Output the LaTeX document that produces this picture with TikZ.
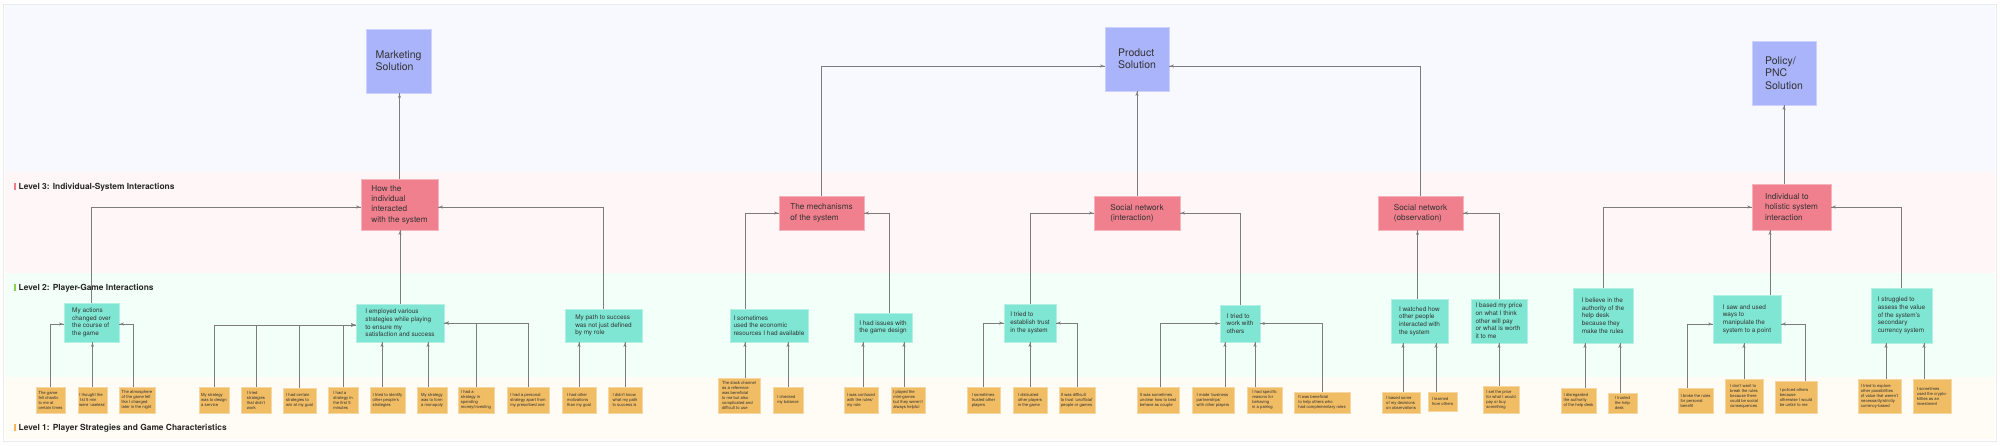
\documentclass[tikz,border=0pt]{standalone}
\usepackage{fontspec}
\setmainfont{TeX Gyre Heros}
\usetikzlibrary{arrows}
\usetikzlibrary{decorations.markings}
\definecolor{bandtop}{HTML}{F8F8FF}
\definecolor{bandthree}{HTML}{FFF6F7}
\definecolor{bandtwo}{HTML}{F3FFF9}
\definecolor{bandone}{HTML}{FFFCF5}
\definecolor{framegray}{HTML}{ECECEC}
\definecolor{solblue}{HTML}{AAB4FA}
\definecolor{themered}{HTML}{F0808E}
\definecolor{mint}{HTML}{7EE6D2}
\definecolor{notegold}{HTML}{F0BC64}
\definecolor{linegray}{HTML}{7C7C7C}
\definecolor{inkgray}{HTML}{333333}
\definecolor{barthree}{HTML}{F07C8A}
\definecolor{bartwo}{HTML}{8BD34B}
\definecolor{barone}{HTML}{F4B45A}
\tikzset{feed/.style = {color=linegray, line width=0.8pt,
                        decoration={markings,
                                    mark=at position 1 with {\arrow[scale=0.85]{latex'}}},
                        postaction={decorate}}}
\tikzset{solution/.style = {fill=solblue, draw=solblue!60!white, line width=0.6pt, align=left,
                            text=inkgray, inner sep=2pt,
                            font=\fontsize{10.5}{12.5}\selectfont}}
\tikzset{theme/.style = {fill=themered, draw=themered!60!white, line width=0.6pt, align=left,
                         text=inkgray, inner sep=2pt,
                         font=\fontsize{8.2}{10.3}\selectfont}}
\tikzset{interact/.style = {fill=mint, draw=mint!60!white, line width=0.6pt, align=left,
                            text=inkgray, inner sep=2pt,
                            font=\fontsize{6.4}{7.7}\selectfont}}
\tikzset{note/.style = {fill=notegold, draw=notegold!60!white, line width=0.5pt, align=left,
                        text=inkgray, inner sep=1pt,
                        font=\fontsize{4.2}{5}\selectfont}}
\tikzset{lvl/.style = {anchor=west, inner sep=0pt, text=black!85,
                       font=\fontsize{8.4}{10}\selectfont\bfseries}}

\begin{document}
\begin{tikzpicture}[x=1pt, y=-1pt]
      \useasboundingbox (0,0) rectangle (2000,445);
      \fill [white] (0,0) rectangle (2000,445);

      % bands
      \fill [bandtop] (5,5) rectangle (1995,172);
      \fill [bandthree] (5,172) rectangle (1995,273);
      \fill [bandtwo] (5,273) rectangle (1995,377);
      \fill [bandone] (5,377) rectangle (1995,439);
      \draw [framegray, line width=0.8pt] (3,4) rectangle (1996,441);

      \node [lvl] (lvlthree) at (14,187) {\textcolor{barthree}{\rule[-0.05em]{1.5pt}{0.8em}}\hspace{3pt}Level 3: Individual-System Interactions};
      \node [lvl] (lvltwo) at (14,288) {\textcolor{bartwo}{\rule[-0.05em]{1.5pt}{0.8em}}\hspace{3pt}Level 2: Player-Game Interactions};
      \node [lvl] (lvlone) at (14,428) {\textcolor{barone}{\rule[-0.05em]{1.5pt}{0.8em}}\hspace{3pt}Level 1: Player Strategies and Game Characteristics};

      % solutions
      \node [solution, minimum width=65pt, minimum height=64pt] (market) at (398.5,61) {Marketing\\Solution};
      \node [solution, minimum width=64pt, minimum height=64pt] (product) at (1137,59) {Product\\Solution};
      \node [solution, minimum width=64pt, minimum height=64pt] (policy) at (1784,73) {Policy/\\PNC\\Solution};

      % level 3
      \node [theme, minimum width=77pt, minimum height=51pt] (howsys) at (399.5,204.5) {How the\\individual\\interacted\\with the system};
      \node [theme, minimum width=85pt, minimum height=34pt] (mech) at (821.5,213) {The mechanisms\\of the system};
      \node [theme, minimum width=86pt, minimum height=34pt] (socint) at (1137,213) {Social network\\(interaction)};
      \node [theme, minimum width=85pt, minimum height=34pt] (socobs) at (1420.5,213) {Social network\\(observation)};
      \node [theme, minimum width=79pt, minimum height=46pt] (holistic) at (1791.5,207) {Individual to\\holistic system\\interaction};

      % level 2
      \node [interact, minimum width=55pt, minimum height=39pt] (myact) at (91.5,322.5) {My actions\\changed over\\the course of\\the game};
      \node [interact, minimum width=88pt, minimum height=38pt] (employ) at (400,323) {I employed various\\strategies while playing\\to ensure my\\satisfaction and success};
      \node [interact, minimum width=77pt, minimum height=33pt] (mypath) at (603.5,325.5) {My path to success\\was not just defined\\by my role};
      \node [interact, minimum width=78pt, minimum height=33pt] (ecores) at (769,325.5) {I sometimes\\used the economic\\resources I had available};
      \node [interact, minimum width=58pt, minimum height=29pt] (issues) at (883,327.5) {I had issues with\\the game design};
      \node [interact, minimum width=52pt, minimum height=38pt] (trust) at (1030,323) {I tried to\\establish trust\\in the system};
      \node [interact, minimum width=40pt, minimum height=37pt] (twork) at (1240,323.5) {I tried to\\work with\\others};
      \node [interact, minimum width=57pt, minimum height=44pt] (watched) at (1419.5,321) {I watched how\\other people\\interacted with\\the system};
      \node [interact, minimum width=56pt, minimum height=44pt] (price) at (1499,321) {I based my price\\on what I think\\other will pay\\or what is worth\\it to me};
      \node [interact, minimum width=60pt, minimum height=55pt] (believe) at (1603,315.5) {I believe in the\\authority of the\\help desk\\because they\\make the rules};
      \node [interact, minimum width=68pt, minimum height=48pt] (sawused) at (1747,319) {I saw and used\\ways to\\manipulate the\\system to a point};
      \node [interact, minimum width=61pt, minimum height=55pt] (struggled) at (1901.5,315.5) {I struggled to\\assess the value\\of the system's\\secondary\\currency system};

      % level 1
      \node [note, minimum width=29pt, minimum height=26pt] (n1) at (50.5,400) {The game\\felt chaotic\\to me at\\certain times};
      \node [note, minimum width=29pt, minimum height=26pt] (n2) at (92.5,400) {I thought the\\1st 5 min\\were `useless'};
      \node [note, minimum width=36pt, minimum height=26pt] (n3) at (137,400) {The atmosphere\\of the game felt\\like I changed\\later in the night};
      \node [note, minimum width=30pt, minimum height=26pt] (n4) at (214,400) {My strategy\\was to design\\a service};
      \node [note, minimum width=30pt, minimum height=26pt] (n5) at (256,400) {I tried\\strategies\\that didn't\\work};
      \node [note, minimum width=33pt, minimum height=25pt] (n6) at (299.5,400.5) {I had certain\\strategies to\\win at my goal};
      \node [note, minimum width=30pt, minimum height=26pt] (n7) at (343,400) {I had a\\strategy in\\the first 5\\minutes};
      \node [note, minimum width=35pt, minimum height=26pt] (n8) at (387.5,400) {I tried to identify\\other people's\\strategies};
      \node [note, minimum width=30pt, minimum height=26pt] (n9) at (432,400) {My strategy\\was to form\\a monopoly};
      \node [note, minimum width=36pt, minimum height=26pt] (n10) at (476,400) {I had a\\strategy in\\spending\\money/investing};
      \node [note, minimum width=42pt, minimum height=26pt] (n11) at (528,400) {I had a personal\\strategy apart from\\my prescribed one};
      \node [note, minimum width=34pt, minimum height=26pt] (n12) at (579,400) {I had other\\motivations\\than my goal};
      \node [note, minimum width=34pt, minimum height=26pt] (n13) at (625,400) {I didn't know\\what my path\\to success is};
      \node [note, minimum width=42pt, minimum height=35pt] (n14) at (739,395.5) {The slack channel\\as a reference\\was beneficial\\to me but also\\complicated and\\difficult to use};
      \node [note, minimum width=30pt, minimum height=26pt] (n15) at (788,400) {I checked\\my balance};
      \node [note, minimum width=34pt, minimum height=26pt] (n16) at (861,400) {I was confused\\with the rules/\\my role};
      \node [note, minimum width=34pt, minimum height=26pt] (n17) at (908,400) {I played the\\mini-games\\but they weren't\\always helpful};
      \node [note, minimum width=33pt, minimum height=26pt] (n18) at (983.5,400) {I sometimes\\trusted other\\players};
      \node [note, minimum width=34pt, minimum height=26pt] (n19) at (1030,400) {I distrusted\\other players\\in the game};
      \node [note, minimum width=36pt, minimum height=26pt] (n20) at (1077,400) {It was difficult\\to trust `unofficial'\\people or games};
      \node [note, minimum width=42pt, minimum height=26pt] (n21) at (1158,400) {It was sometimes\\unclear how to best\\behave as couple};
      \node [note, minimum width=42pt, minimum height=26pt] (n22) at (1213,400) {I made `business\\partnerships'\\with other players};
      \node [note, minimum width=35pt, minimum height=26pt] (n23) at (1264.5,400) {I had specific\\reasons for\\behaving\\in a pairing};
      \node [note, minimum width=56pt, minimum height=21pt] (n24) at (1322,402.5) {It was beneficial\\to help others who\\had complementary roles};
      \node [note, minimum width=38pt, minimum height=21pt] (n25) at (1401,402.5) {I based some\\of my decisions\\on observations};
      \node [note, minimum width=29pt, minimum height=19pt] (n26) at (1442.5,401.5) {I learned\\from others};
      \node [note, minimum width=36pt, minimum height=27pt] (n27) at (1501,399.5) {I set the price\\for what I would\\pay or buy\\something};
      \node [note, minimum width=35pt, minimum height=25pt] (n28) at (1578.5,400.5) {I disregarded\\the authority\\of the help desk};
      \node [note, minimum width=29pt, minimum height=20pt] (n29) at (1622.5,403) {I trusted\\the help\\desk};
      \node [note, minimum width=35pt, minimum height=25pt] (n30) at (1695.5,400.5) {I broke the rules\\for personal\\benefit};
      \node [note, minimum width=38pt, minimum height=34pt] (n31) at (1744,396) {I don't want to\\break the rules\\because there\\could be social\\consequences};
      \node [note, minimum width=42pt, minimum height=32pt] (n32) at (1796,397) {I policed others\\because\\otherwise I would\\be unfair to me};
      \node [note, minimum width=43pt, minimum height=34pt] (n33) at (1879.5,396) {I tried to explore\\other possibilities\\of value that weren't\\necessarily/strictly\\currency-based};
      \node [note, minimum width=38pt, minimum height=34pt] (n34) at (1932,396) {I sometimes\\used the crypto-\\kitties as an\\investment};

      % level 3 to solutions
      \draw [feed] (howsys.north) -- (howsys.north |- market.south);
      \draw [feed] (mech.north) |- ([yshift=-7pt]product.west);
      \draw [feed] (socint.north) -- (product.south);
      \draw [feed] (socobs.north) |- ([yshift=-7pt]product.east);
      \draw [feed] (holistic.north -| policy.south) -- (policy.south);

      % level 2 to level 3
      \draw [feed] (myact.north) |- ([yshift=-2.5pt]howsys.west);
      \draw [feed] (employ.north) -- (employ.north |- howsys.south);
      \draw [feed] (mypath.north) |- ([yshift=-2.5pt]howsys.east);
      \draw [feed] ([xshift=-24pt]ecores.north) |- (mech.west);
      \draw [feed] ([xshift=6pt]issues.north) |- (mech.east);
      \draw [feed] (trust.north) |- (socint.west);
      \draw [feed] (twork.north) |- (socint.east);
      \draw [feed] ([xshift=-2pt]watched.north) -- ([xshift=-2pt]watched.north |- socobs.south);
      \draw [feed] (price.north) |- (socobs.east);
      \draw [feed] (believe.north) |- (holistic.west);
      \draw [feed] ([xshift=23pt]sawused.north) -- ([xshift=23pt]sawused.north |- holistic.south);
      \draw [feed] (struggled.north) |- (holistic.east);

      % level 1 to level 2
      \draw [feed] (n1.north) |- ([yshift=-1.5pt]myact.west);
      \draw [feed] (n2.north) -- (n2.north |- myact.south);
      \draw [feed] ([xshift=-4pt]n3.north) |- ([yshift=-1.5pt]myact.east);
      \foreach \n in {n4,n5,n6,n7} {
        \draw [feed] (\n.north) |- ([yshift=-2pt]employ.west);
      }
      \draw [feed] ([xshift=-5.5pt]n8.north) -- ([xshift=-5.5pt]n8.north |- employ.south);
      \draw [feed] ([xshift=-4pt]n9.north) -- ([xshift=-4pt]n9.north |- employ.south);
      \foreach \n in {n10,n11} {
        \draw [feed] (\n.north) |- (employ.east);
      }
      \draw [feed] (n12.north) -- (n12.north |- mypath.south);
      \draw [feed] (n13.north) -- (n13.north |- mypath.south);
      \draw [feed] ([xshift=6pt]n14.north) -- ([xshift=6pt]n14.north |- ecores.south);
      \draw [feed] (n15.north) -- (n15.north |- ecores.south);
      \draw [feed] ([xshift=2pt]n16.north) -- ([xshift=2pt]n16.north |- issues.south);
      \draw [feed] ([xshift=-4pt]n17.north) -- ([xshift=-4pt]n17.north |- issues.south);
      \draw [feed] (n18.north) |- (trust.west);
      \draw [feed] (n19.north) -- (n19.north |- trust.south);
      \draw [feed] (n20.north) |- (trust.east);
      \draw [feed] ([xshift=2pt]n21.north) |- (twork.west);
      \draw [feed] ([xshift=12pt]n22.north) -- ([xshift=12pt]n22.north |- twork.south);
      \draw [feed] ([xshift=-9.5pt]n23.north) -- ([xshift=-9.5pt]n23.north |- twork.south);
      \draw [feed] (n24.north) |- (twork.east);
      \draw [feed] ([xshift=2pt]n25.north) -- ([xshift=2pt]n25.north |- watched.south);
      \draw [feed] ([xshift=-6.5pt]n26.north) -- ([xshift=-6.5pt]n26.north |- watched.south);
      \draw [feed] ([xshift=-2pt]n27.north) -- ([xshift=-2pt]n27.north |- price.south);
      \draw [feed] ([xshift=6.5pt]n28.north) -- ([xshift=6.5pt]n28.north |- believe.south);
      \draw [feed] ([xshift=-2.5pt]n29.north) -- ([xshift=-2.5pt]n29.north |- believe.south);
      \draw [feed] ([xshift=-8.5pt]n30.north) |- ([yshift=-5pt]sawused.west);
      \draw [feed] (n31.north) -- (n31.north |- sawused.south);
      \draw [feed] ([xshift=9pt]n32.north) |- ([yshift=-5pt]sawused.east);
      \draw [feed] ([xshift=6.5pt]n33.north) -- ([xshift=6.5pt]n33.north |- struggled.south);
      \draw [feed] ([xshift=-8pt]n34.north) -- ([xshift=-8pt]n34.north |- struggled.south);

    \end{tikzpicture}
\end{document}
